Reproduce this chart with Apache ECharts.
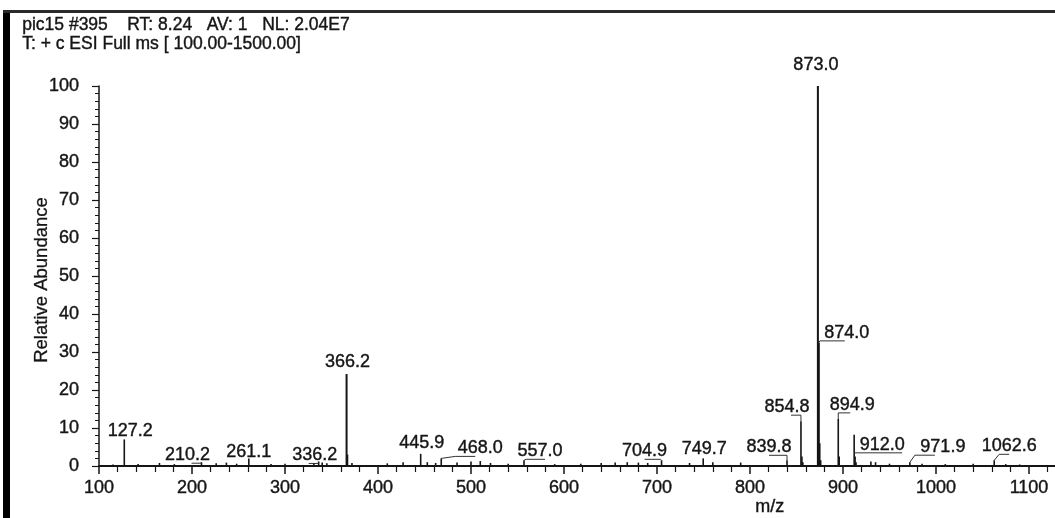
<!DOCTYPE html>
<html><head><meta charset="utf-8">
<script src="https://cdn.jsdelivr.net/npm/echarts/dist/echarts.min.js"></script>
<style>html,body{margin:0;padding:0;background:#fff}#c{width:1055px;height:518px}</style>
</head><body><div id="c"></div>
<script>
// ---------- data ----------
const headerLine1 = 'pic15 #395    RT: 8.24   AV: 1   NL: 2.04E7';
const headerLine2 = 'T: + c ESI Full ms [ 100.00-1500.00]';
const xAxisTitle = 'm/z';
const yAxisTitle = 'Relative Abundance';
const xTickValues = [100, 200, 300, 400, 500, 600, 700, 800, 900, 1000, 1100];
const yTickValues = [0, 10, 20, 30, 40, 50, 60, 70, 80, 90, 100];

// labelled peaks
const labelMz    = [127.2, 210.2, 261.1, 336.2, 366.2, 445.9, 468.0, 557.0, 704.9, 749.7, 839.8, 854.8, 873.0, 874.0, 894.9, 912.0, 971.9, 1062.6];
const labelAbund = [7.0,   1.0,   2.0,   1.2,   24.2,  3.2,   2.0,   1.5,   1.5,   2.0,   1.5,   11.8,  100,   32.4,  12.4,  8.2,   1.0,   1.5];

// unlabelled small peaks / noise
const minorMz    = [115, 142, 165, 181, 226, 237, 248, 285, 300, 331, 340, 345, 367.2, 372, 410, 427, 453, 462, 485, 500, 510, 521, 540, 590, 618, 640, 655, 668, 680, 690, 735, 760, 790, 855.8, 856.8, 875.0, 876.0, 895.9, 913.0, 914.0, 930, 935, 950, 985, 1010, 1040, 1075, 1090];
const minorAbund = [0.4, 0.5, 0.8, 0.5, 0.7, 0.9, 0.6, 0.5, 0.6, 0.8, 0.9, 0.7, 3.0,   0.8, 0.7, 1.0, 1.0, 0.8, 0.9, 1.2, 1.3, 0.8, 0.6, 0.5, 0.6, 0.8, 0.9, 1.0, 0.9, 0.8, 0.8, 1.0, 0.9, 2.5,   1.0,   6.0,   1.5,   2.5,   2.5,   1.0,   1.2, 1.0, 0.6, 0.6, 0.5,  0.6,  0.5,  0.4];

// ---------- label layout (pixel offsets of label centre from the peak top) ----------
const labelDx = [6, -14, 0, -4, 1, 1, 39, 16, -17, 1, -18, -14, -2, 28, 14, 28, 33, 15];
const labelDy = [-8, -7, -6, -6, -12, -11, -10, -9, -9, -9, -13, -14, -21, -10, -14, 10, -15, -14];
// leader lines: [near end, far end] x offsets relative to label centre (null = none)
const leaderX = [null, [14, 4], null, [4, -6], null, null, [-25, -5], [-14, 5], [16, 0], null, [18, 0], [14, 4], null, [-27, -2], [-14, -2], [-28, 20], [-28, -8], [-10, 0]];

const FONT = "'Liberation Sans', Arial, sans-serif";
const INK = '#151515';

const allPeaks = labelMz.map((m, i) => [m, labelAbund[i]]).concat(minorMz.map((m, i) => [m, minorAbund[i]]));
const labelData = labelMz.map((m, i) => [m, labelAbund[i]]);

const chart = echarts.init(document.getElementById('c'), null, {renderer: 'canvas'});
chart.setOption({
  backgroundColor: '#ffffff',
  animation: false,
  grid: {left: 99, top: 86, height: 380, width: 1023, outerBoundsMode: 'none', containLabel: false},
  xAxis: {
    type: 'value', min: 100, max: 1200, interval: 100,
    axisLine: {show: true, onZero: false, lineStyle: {color: INK, width: 2}},
    axisTick: {show: true, length: 8, lineStyle: {color: INK, width: 1.5}},
    minorTick: {show: true, splitNumber: 5, length: 6, lineStyle: {color: INK, width: 1.2}},
    splitLine: {show: false},
    axisLabel: {
      color: INK, fontSize: 18, fontFamily: FONT, margin: 13,
      textBorderColor: INK, textBorderWidth: 0.4,
      formatter: v => (xTickValues.indexOf(v) >= 0 ? String(v) : '')
    }
  },
  yAxis: {
    type: 'value', min: 0, max: 100, interval: 10,
    axisLine: {show: true, lineStyle: {color: INK, width: 1.5}},
    axisTick: {show: true, length: 7, lineStyle: {color: INK, width: 1.2}},
    minorTick: {show: true, splitNumber: 5, length: 4, lineStyle: {color: INK, width: 1}},
    splitLine: {show: false},
    axisLabel: {
      color: INK, fontSize: 18, fontFamily: FONT, margin: 20,
      textBorderColor: INK, textBorderWidth: 0.4,
      formatter: v => (yTickValues.indexOf(v) >= 0 ? String(v) : '')
    }
  },
  series: [
    {
      type: 'custom', name: 'spectrum', data: allPeaks, encode: {x: 0, y: 1}, silent: true,
      renderItem: function (params, api) {
        const top = api.coord([api.value(0), api.value(1)]);
        const base = api.coord([api.value(0), 0]);
        return {type: 'line', shape: {x1: top[0], y1: top[1], x2: base[0], y2: base[1]},
                style: {stroke: INK, lineWidth: api.value(1) > 20 ? 2 : 1.6}};
      }
    },
    {
      type: 'custom', name: 'labels', data: labelData, encode: {x: 0, y: 1}, silent: true, z: 5,
      renderItem: function (params, api) {
        const i = params.dataIndex;
        const top = api.coord([api.value(0), api.value(1)]);
        const cx = top[0] + labelDx[i];
        const cy = top[1] + labelDy[i];
        const children = [{
          type: 'text',
          style: {text: labelMz[i].toFixed(1), x: cx, y: cy, align: 'center', verticalAlign: 'middle',
                  fill: INK, stroke: INK, lineWidth: 0.4, font: '18px ' + FONT}
        }];
        const lx = leaderX[i];
        if (lx) {
          const uy = cy + 8;
          const start = top[1] < uy ? [top[0], uy] : [top[0], top[1]];
          children.push({type: 'polyline',
            shape: {points: [start, [cx + lx[0], uy], [cx + lx[1], uy]]},
            style: {stroke: '#333', lineWidth: 1, fill: null}});
        }
        return {type: 'group', children: children};
      }
    }
  ],
  graphic: [
    {type: 'rect', left: 3, top: 10, shape: {width: 7, height: 508}, style: {fill: '#000'}},
    {type: 'rect', left: 3, top: 10, shape: {width: 1052, height: 3}, style: {fill: '#2a2a2a'}},
    {type: 'text', left: 22, top: 16, style: {text: headerLine1, fill: INK, stroke: INK, lineWidth: 0.4, font: '17.5px ' + FONT}},
    {type: 'text', left: 22, top: 35, style: {text: headerLine2, fill: INK, stroke: INK, lineWidth: 0.4, font: '17.5px ' + FONT}},
    {type: 'text', left: 755, top: 498, style: {text: xAxisTitle, fill: INK, stroke: INK, lineWidth: 0.4, font: '18px ' + FONT}},
    {type: 'text', x: 42, y: 280, rotation: Math.PI / 2,
     style: {text: yAxisTitle, align: 'center', verticalAlign: 'middle', fill: INK, stroke: INK, lineWidth: 0.3, font: '18.5px ' + FONT}}
  ]
});
</script>
</body></html>
